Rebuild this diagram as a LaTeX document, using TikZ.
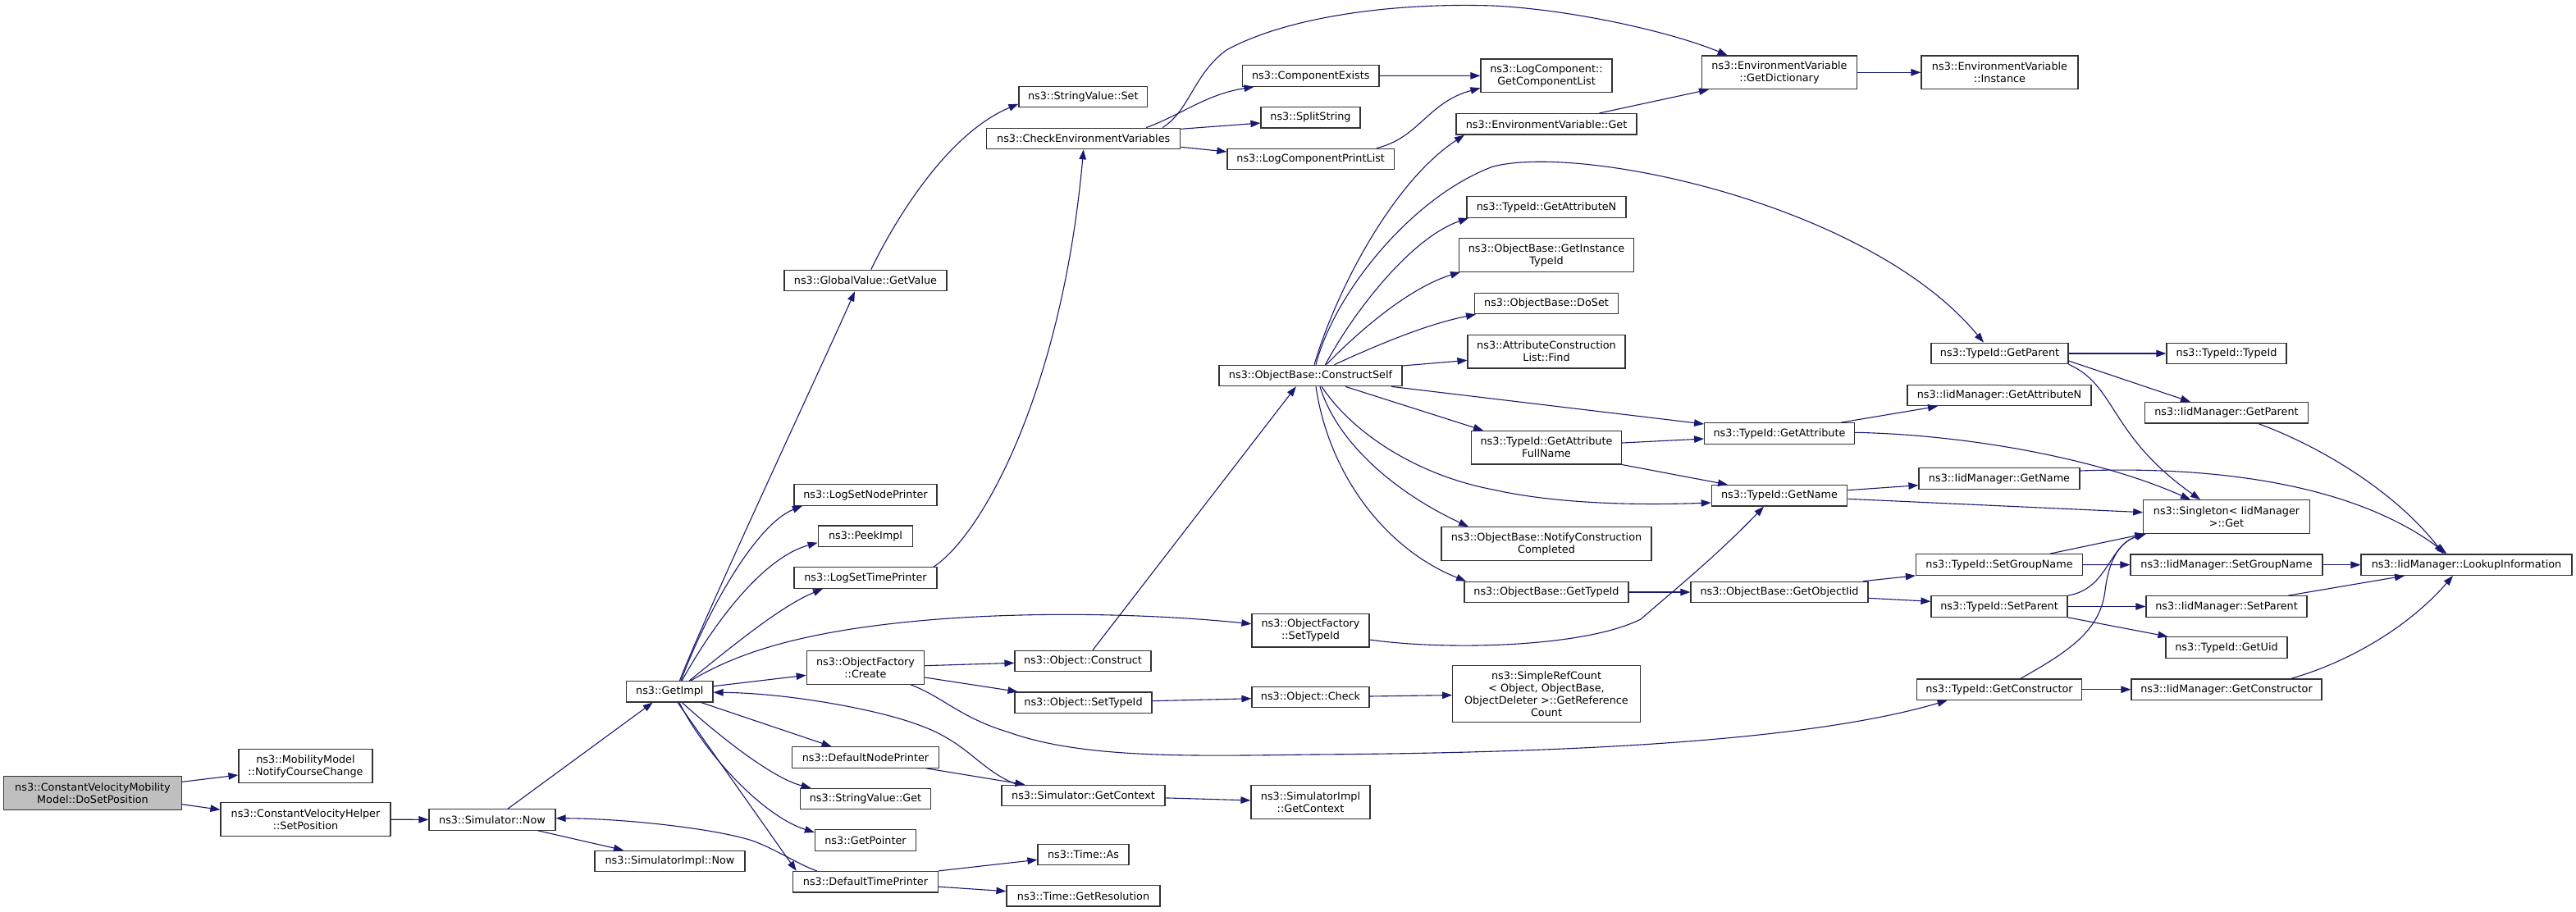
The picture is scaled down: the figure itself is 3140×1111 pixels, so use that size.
\documentclass[tikz,border=0pt]{standalone}
\usepackage{fontspec}
\setmainfont{DejaVu Sans}
\usetikzlibrary{arrows.meta}
\definecolor{edgeblue}{HTML}{191970}
\definecolor{rootgray}{HTML}{BFBFBF}
\definecolor{boxline}{HTML}{333333}
\tikzset{
  box/.style={draw=boxline, line width=1.2pt, fill=white, inner sep=0pt, align=center,
    font=\fontsize{12.8pt}{15pt}\selectfont, minimum height=25.5pt},
  box2/.style={box, minimum height=40.5pt},
  calledge/.style={draw=edgeblue, line width=1.1pt, -{Triangle[length=12pt,width=8.5pt]}}
}
\begin{document}
\begin{tikzpicture}[x=1pt,y=-1pt]
\useasboundingbox (0,0) rectangle (3140,1111);
% ---------------- nodes ----------------
\node[box2, fill=rootgray, minimum width=217pt] (dsp) at (113,967) {ns3::ConstantVelocityMobility\\Model::DoSetPosition};
\node[box2, minimum width=163pt] (mm) at (372.5,934) {ns3::MobilityModel\\::NotifyCourseChange};
\node[box2, minimum width=207pt] (cvh) at (372.5,999) {ns3::ConstantVelocityHelper\\::SetPosition};
\node[box, minimum width=154pt] (snow) at (600,999.5) {ns3::Simulator::Now};
\node[box, minimum width=105.4pt] (gimpl) at (816.3,843.2) {ns3::GetImpl};
\node[box, minimum width=183pt] (sinow) at (816.5,1050) {ns3::SimulatorImpl::Now};
\node[box, minimum width=198pt] (gvgv) at (1055,342) {ns3::GlobalValue::GetValue};
\node[box, minimum width=174pt] (lsnp) at (1055,603.5) {ns3::LogSetNodePrinter};
\node[box, minimum width=115.5pt] (peek) at (1055,653.7) {ns3::PeekImpl};
\node[box, minimum width=174pt] (lstp) at (1055,704.5) {ns3::LogSetTimePrinter};
\node[box2, minimum width=143.4pt] (ofc) at (1055,814) {ns3::ObjectFactory\\::Create};
\node[box, minimum width=178.5pt] (dnp) at (1055,923.5) {ns3::DefaultNodePrinter};
\node[box, minimum width=159pt] (svg) at (1055,974) {ns3::StringValue::Get};
\node[box, minimum width=123pt] (gp) at (1055,1024.5) {ns3::GetPointer};
\node[box, minimum width=177pt] (dtp) at (1055,1075.2) {ns3::DefaultTimePrinter};
\node[box, minimum width=156.6pt] (svs) at (1320.3,118) {ns3::StringValue::Set};
\node[box, minimum width=236pt] (cev) at (1320.7,169) {ns3::CheckEnvironmentVariables};
\node[box, minimum width=166pt] (ocon) at (1320,806) {ns3::Object::Construct};
\node[box, minimum width=167pt] (osti) at (1320.5,856.7) {ns3::Object::SetTypeId};
\node[box, minimum width=199pt] (sgc) at (1320.5,970) {ns3::Simulator::GetContext};
\node[box, minimum width=111pt] (tas) at (1320.5,1042) {ns3::Time::As};
\node[box, minimum width=187pt] (tgr) at (1320.5,1092.3) {ns3::Time::GetResolution};
\node[box, minimum width=166.4pt] (ce) at (1597.8,92.5) {ns3::ComponentExists};
\node[box, minimum width=121pt] (ss) at (1597.5,143.3) {ns3::SplitString};
\node[box, minimum width=203.5pt] (lcpl) at (1597.7,194) {ns3::LogComponentPrintList};
\node[box, minimum width=223pt] (cs) at (1597.5,458) {ns3::ObjectBase::ConstructSelf};
\node[box2, minimum width=143pt] (ofst) at (1597.5,768.7) {ns3::ObjectFactory\\::SetTypeId};
\node[box, minimum width=143pt] (ochk) at (1597.5,850) {ns3::Object::Check};
\node[box2, minimum width=145pt] (sigc) at (1597.5,978) {ns3::SimulatorImpl\\::GetContext};
\node[box2, minimum width=160pt] (lcgcl) at (1885,92.3) {ns3::LogComponent::\\GetComponentList};
\node[box, minimum width=220pt] (evg) at (1885,151.3) {ns3::EnvironmentVariable::Get};
\node[box, minimum width=194pt] (tgan) at (1885,252.5) {ns3::TypeId::GetAttributeN};
\node[box2, minimum width=213.5pt] (ogit) at (1885,311) {ns3::ObjectBase::GetInstance\\TypeId};
\node[box, minimum width=175pt] (ods) at (1885,370) {ns3::ObjectBase::DoSet};
\node[box2, minimum width=192pt] (acl) at (1885,428.7) {ns3::AttributeConstruction\\List::Find};
\node[box2, minimum width=183pt] (tgafn) at (1885,545.7) {ns3::TypeId::GetAttribute\\FullName};
\node[box2, minimum width=256pt] (oncc) at (1885,663) {ns3::ObjectBase::NotifyConstruction\\Completed};
\node[box, minimum width=200pt] (ogti) at (1885,722) {ns3::ObjectBase::GetTypeId};
\node[box, minimum width=228.5pt, minimum height=69pt] (src) at (1885,846) {ns3::SimpleRefCount\\< Object, ObjectBase,\\ObjectDeleter >::GetReference\\Count};
\node[box2, minimum width=189.5pt] (gdict) at (2169,88.3) {ns3::EnvironmentVariable\\::GetDictionary};
\node[box, minimum width=182.6pt] (tga) at (2169,528.5) {ns3::TypeId::GetAttribute};
\node[box, minimum width=165.5pt] (tgn) at (2169,604.3) {ns3::TypeId::GetName};
\node[box, minimum width=216pt] (ogoi) at (2169,722) {ns3::ObjectBase::GetObjectIid};
\node[box2, minimum width=191pt] (inst) at (2437.5,88.3) {ns3::EnvironmentVariable\\::Instance};
\node[box, minimum width=167pt] (tgp) at (2437.5,431) {ns3::TypeId::GetParent};
\node[box, minimum width=224pt] (imgan) at (2437,482) {ns3::IidManager::GetAttributeN};
\node[box, minimum width=196pt] (imgn) at (2437,583.5) {ns3::IidManager::GetName};
\node[box, minimum width=203pt] (tsgn) at (2437,688.5) {ns3::TypeId::SetGroupName};
\node[box, minimum width=166pt] (tsp) at (2437,739.5) {ns3::TypeId::SetParent};
\node[box, minimum width=201.5pt] (tgc) at (2437,840.7) {ns3::TypeId::GetConstructor};
\node[box, minimum width=146pt] (ttid) at (2714,431) {ns3::TypeId::TypeId};
\node[box, minimum width=198.5pt] (imgp) at (2714,503.3) {ns3::IidManager::GetParent};
\node[box2, minimum width=202.5pt] (sing) at (2714,630) {ns3::Singleton< IidManager\\ >::Get};
\node[box, minimum width=234pt] (imsgn) at (2714,688.7) {ns3::IidManager::SetGroupName};
\node[box, minimum width=196pt] (imsp) at (2714,739.5) {ns3::IidManager::SetParent};
\node[box, minimum width=148pt] (tuid) at (2714,789.5) {ns3::TypeId::GetUid};
\node[box, minimum width=232pt] (imgc) at (2714,840.7) {ns3::IidManager::GetConstructor};
\node[box, minimum width=257pt] (look) at (3006.5,688.7) {ns3::IidManager::LookupInformation};
% ---------------- edges ----------------
\draw[calledge] ([shift={(0,-13.7)}]dsp.east) -- ([shift={(0,11)}]mm.west);
\draw[calledge] ([shift={(0,13.7)}]dsp.east) -- ([shift={(0,-11.7)}]cvh.west);
\draw[calledge] (cvh) -- (snow);
\draw[calledge] ([shift={(19,0)}]snow.north) -- ([shift={(-20.6,0)}]gimpl.south);
\draw[calledge] ([shift={(56,0)}]snow.south) -- ([shift={(-56.5,0)}]sinow.north);
\draw[calledge] ([shift={(12.2,0)}]gimpl.north) .. controls (855,760) and (1000,450) .. ([shift={(-13,0)}]gvgv.south);
\draw[calledge] ([shift={(13.7,0)}]gimpl.north) .. controls (860,750) and (920,640) .. ([shift={(-77,0)}]lsnp.south);
\draw[calledge] ([shift={(15,0)}]gimpl.north) .. controls (870,760) and (930,680) .. ([shift={(0,8)}]peek.west);
\draw[calledge] ([shift={(24,0)}]gimpl.north) .. controls (890,790) and (950,740) .. ([shift={(-52,0)}]lstp.south);
\draw[calledge] ([shift={(26,0)}]gimpl.north) .. controls (900,795) and (980,770) .. (1120,757) .. controls (1250,745) and (1400,748) .. ([shift={(0,-8)}]ofst.west);
\draw[calledge] ([shift={(0,-6.5)}]gimpl.east) -- ([shift={(0,9.3)}]ofc.west);
\draw[calledge] ([shift={(-80.5,0)}]sgc.north) .. controls (1195,940) and (1180,905) .. (1120,884) .. controls (1070,865) and (960,845) .. ([shift={(0,1)}]gimpl.east);
\draw[calledge] ([shift={(38.3,0)}]gimpl.south) -- ([shift={(-41.4,0)}]dnp.north);
\draw[calledge] ([shift={(15,0)}]gimpl.south) .. controls (885,905) and (945,950) .. ([shift={(-66.4,0)}]svg.north);
\draw[calledge] ([shift={(11.6,0)}]gimpl.south) .. controls (860,920) and (930,995) .. ([shift={(0,-9.5)}]gp.west);
\draw[calledge] ([shift={(9.7,0)}]gimpl.south) -- ([shift={(-84.3,0)}]dtp.north);
\draw[calledge] ([shift={(-59.3,0)}]dtp.north) .. controls (975,1055) and (945,1035) .. (917,1025) .. controls (870,1010) and (760,998) .. ([shift={(0,-1.8)}]snow.east);
\draw[calledge] ([shift={(6.8,0)}]gvgv.north) .. controls (1085,280) and (1150,165) .. ([shift={(0,8.7)}]svs.west);
\draw[calledge] ([shift={(83,0)}]lstp.north) .. controls (1200,650) and (1295,470) .. (cev.south);
\draw[calledge] ([shift={(96.3,0)}]cev.north) .. controls (1450,135) and (1455,90) .. (1495,61) .. controls (1570,20) and (1700,3) .. (1820,7) .. controls (1920,12) and (2040,40) .. ([shift={(-63.3,0)}]gdict.north);
\draw[calledge] ([shift={(76.3,0)}]cev.north) .. controls (1440,140) and (1470,115) .. ([shift={(-69.3,0)}]ce.south);
\draw[calledge] ([shift={(0,-11.7)}]cev.east) -- ([shift={(0,6.7)}]ss.west);
\draw[calledge] ([shift={(0,10.3)}]cev.east) -- ([shift={(0,-9)}]lcpl.west);
\draw[calledge] (ce) -- (lcgcl);
\draw[calledge] ([shift={(80.3,0)}]lcpl.north) .. controls (1730,168) and (1740,125) .. ([shift={(0,15)}]lcgcl.west);
\draw[calledge] ([shift={(64.5,0)}]evg.north) -- ([shift={(-86,0)}]gdict.south);
\draw[calledge] (gdict) -- (inst);
\draw[calledge] ([shift={(4.5,0)}]cs.north) .. controls (1630,350) and (1700,220) .. ([shift={(-100,0)}]evg.south);
\draw[calledge] ([shift={(6.5,0)}]cs.north) .. controls (1625,360) and (1720,240) .. (1820,203) .. controls (1930,175) and (2280,250) .. ([shift={(-19.5,0)}]tgp.north);
\draw[calledge] ([shift={(18,0)}]cs.north) .. controls (1650,380) and (1720,290) .. ([shift={(-95,0)}]tgan.south);
\draw[calledge] ([shift={(19,0)}]cs.north) .. controls (1660,400) and (1720,350) .. ([shift={(-105,0)}]ogit.south);
\draw[calledge] ([shift={(29,0)}]cs.north) .. controls (1680,420) and (1740,395) .. ([shift={(-86,0)}]ods.south);
\draw[calledge] ([shift={(0,-12)}]cs.east) -- ([shift={(0,10.6)}]acl.west);
\draw[calledge] ([shift={(98.5,0)}]cs.south) -- ([shift={(0,-11.5)}]tga.west);
\draw[calledge] ([shift={(42.5,0)}]cs.south) -- ([shift={(-77,0)}]tgafn.north);
\draw[calledge] ([shift={(13.5,0)}]cs.south) .. controls (1650,530) and (1730,580) .. (1820,597) .. controls (1900,615) and (2000,616) .. ([shift={(0,8.7)}]tgn.west);
\draw[calledge] ([shift={(11.5,0)}]cs.south) .. controls (1630,540) and (1700,600) .. ([shift={(-95,0)}]oncc.north);
\draw[calledge] ([shift={(6.5,0)}]cs.south) .. controls (1620,580) and (1690,670) .. ([shift={(-98,0)}]ogti.north);
\draw[calledge] ([shift={(12,0)}]ocon.north) -- ([shift={(-17.7,0)}]cs.south);
\draw[calledge] ([shift={(0,-2.3)}]ofc.east) -- ([shift={(0,2.3)}]ocon.west);
\draw[calledge] ([shift={(0,12)}]ofc.east) -- ([shift={(-80,0)}]osti.north);
\draw[calledge] ([shift={(55,0)}]ofc.south) .. controls (1150,850) and (1170,875) .. (1230,893) .. controls (1320,925) and (1450,922) .. (1600,920) .. controls (1900,918) and (2200,905) .. ([shift={(-63.4,0)}]tgc.south);
\draw[calledge] (osti) -- (ochk);
\draw[calledge] (ochk) -- (src);
\draw[calledge] ([shift={(0,11.3)}]ofst.east) .. controls (1760,793) and (1930,790) .. (2000,755) .. controls (2040,720) and (2090,680) .. ([shift={(-19,0)}]tgn.south);
\draw[calledge] ([shift={(0,-5.7)}]tgafn.east) -- ([shift={(0,6.5)}]tga.west);
\draw[calledge] (tgafn.south east) -- ([shift={(-63,0)}]tgn.north);
\draw[calledge] ([shift={(75,0)}]tga.north) -- ([shift={(-75,0)}]imgan.south);
\draw[calledge] ([shift={(0,-1.2)}]tga.east) .. controls (2400,530) and (2560,560) .. ([shift={(-44,0)}]sing.north);
\draw[calledge] ([shift={(0,-6.6)}]tgn.east) -- ([shift={(0,8.2)}]imgn.west);
\draw[calledge] ([shift={(0,4)}]tgn.east) -- ([shift={(0,-5.3)}]sing.west);
\draw[calledge] (ogti) -- (ogoi);
\draw[calledge] ([shift={(102,0)}]ogoi.north) -- (tsgn.south west);
\draw[calledge] ([shift={(0,7.3)}]ogoi.east) -- ([shift={(0,-6.2)}]tsp.west);
\draw[calledge] (tgp) -- (ttid);
\draw[calledge] ([shift={(0,9)}]tgp.east) -- ([shift={(-44,0)}]imgp.north);
\draw[calledge] (tgp.south east) .. controls (2580,470) and (2570,530) .. ([shift={(-32,0)}]sing.north);
\draw[calledge] (tsgn) -- (imsgn);
\draw[calledge] ([shift={(61.6,0)}]tsgn.north) -- ([shift={(2,0)}]sing.south west);
\draw[calledge] (tsp) -- (imsp);
\draw[calledge] (tsp.south east) -- ([shift={(3,0)}]tuid.north west);
\draw[calledge] (tsp.north east) .. controls (2570,718) and (2570,665) .. ([shift={(3,0)}]sing.south west);
\draw[calledge] (tgc) -- (imgc);
\draw[calledge] ([shift={(26,0)}]tgc.north) .. controls (2520,795) and (2560,770) .. (2566,720) .. controls (2571,680) and (2585,660) .. ([shift={(4,0)}]sing.south west);
\draw[calledge] ([shift={(0,-9.5)}]imgn.east) .. controls (2700,568) and (2870,590) .. ([shift={(-24,0)}]look.north);
\draw[calledge] ([shift={(39,0)}]imgp.south) .. controls (2830,545) and (2920,600) .. ([shift={(-28,0)}]look.north);
\draw[calledge] (imsgn) -- (look);
\draw[calledge] ([shift={(75,0)}]imsp.north) -- ([shift={(-75.5,0)}]look.south);
\draw[calledge] ([shift={(78.7,0)}]imgc.north) .. controls (2870,805) and (2940,760) .. ([shift={(-16.5,0)}]look.south);
\draw[calledge] (sgc) -- (sigc);
\draw[calledge] ([shift={(74,0)}]dnp.south) -- ([shift={(-71,0)}]sgc.north);
\draw[calledge] (dtp.north east) -- ([shift={(0,6.3)}]tas.west);
\draw[calledge] ([shift={(0,6)}]dtp.east) -- ([shift={(0,-5.6)}]tgr.west);
\end{tikzpicture}
\end{document}
